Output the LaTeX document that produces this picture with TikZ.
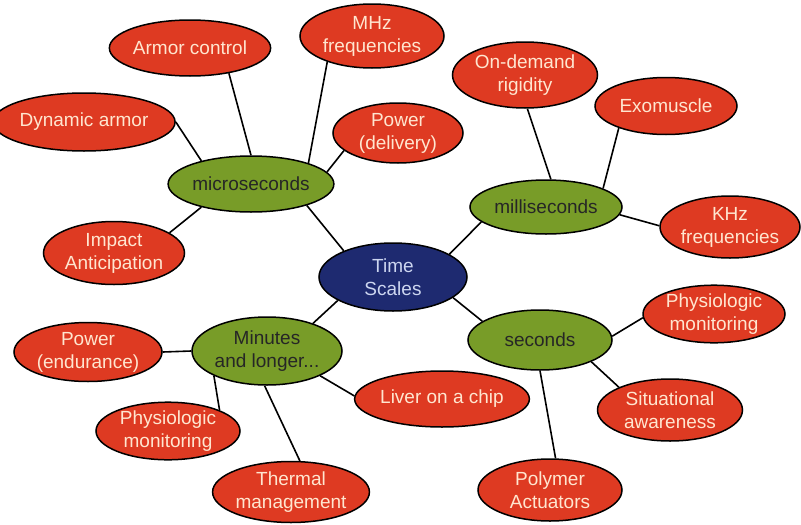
\documentclass[tikz,border=0pt]{standalone}
\usepackage{fontspec}
\setsansfont{Liberation Sans}
\usetikzlibrary{shapes.geometric,backgrounds}
\definecolor{leafred}{RGB}{222,58,34}
\definecolor{catgreen}{RGB}{120,156,40}
\definecolor{hubblue}{RGB}{30,42,112}
\definecolor{leaftext}{RGB}{255,230,208}
\definecolor{hubtext}{RGB}{205,214,240}
\begin{document}
\begin{tikzpicture}[x=1pt,y=-1pt,
   font=\sffamily\fontsize{19}{23}\selectfont,
   bubble/.style={ellipse,draw=black,line width=1.5pt,inner sep=0pt,align=center},
   sz/.style 2 args={minimum width=#1pt,minimum height=#2pt},
   leaf/.style={bubble,fill=leafred,text=leaftext},
   cat/.style={bubble,fill=catgreen,text=black!85},
   hub/.style={bubble,fill=hubblue,text=hubtext},
   link/.style={line width=1.6pt}]
\useasboundingbox (0,0) rectangle (801,525);
% centre and the four time ranges
\node[hub,sz={148}{68}] (hub) at (393,277) {Time\\Scales};
\node[cat,sz={148}{56}] (micro) at (251,184) {microseconds};
\node[cat,sz={152}{54}] (milli) at (546,207) {milliseconds};
\node[cat,sz={144}{60}] (sec) at (540,340) {seconds};
\node[cat,sz={150}{68}] (minutes) at (267,351) {Minutes\\and longer...};
% microseconds
\node[leaf,sz={144}{56}] (armor) at (190,48) {Armor control};
\node[leaf,sz={144}{64}] (mhz) at (372,36) {MHz\\frequencies};
\node[leaf,sz={148}{58}] (dynarmor) at (84,122) {Dynamic armor};
\node[leaf,sz={130}{60}] (delivery) at (398,133) {Power\\(delivery)};
\node[leaf,sz={141}{63}] (impact) at (114,253) {Impact\\Anticipation};
% milliseconds
\node[leaf,sz={145}{66}] (rigidity) at (525,75) {On-demand\\rigidity};
\node[leaf,sz={142}{57}] (exo) at (666,106) {Exomuscle};
\node[leaf,sz={140}{62}] (khz) at (730,227) {KHz\\frequencies};
% seconds
\node[leaf,sz={142}{57}] (physioR) at (714,314) {Physiologic\\monitoring};
\node[leaf,sz={145}{62}] (aware) at (670,410) {Situational\\awareness};
\node[leaf,sz={144}{62}] (polymer) at (550,490) {Polymer\\Actuators};
% minutes and longer
\node[leaf,sz={147}{56}] (liver) at (442,399) {Liver on a chip};
\node[leaf,sz={138}{61}] (thermal) at (291,492) {Thermal\\management};
\node[leaf,sz={144}{57}] (physioL) at (168,431) {Physiologic\\monitoring};
\node[leaf,sz={148}{59}] (endurance) at (88,352) {Power\\(endurance)};
\begin{scope}[on background layer]
\draw[link] (hub.152) -- (micro.-21);
\draw[link] (hub.22) -- (milli.-167);
\draw[link] (hub.-19) -- (sec.162);
\draw[link] (hub.-157) -- (minutes.31);
\draw[link] (micro.90) -- (armor.-33);
\draw[link] (micro.20) -- (mhz.-150);
\draw[link] (micro.155) -- (dynarmor.0);
\draw[link] (micro.9) -- (delivery.-162);
\draw[link] (micro.-155) -- (impact.20);
\draw[link] (milli.80) -- (rigidity.-86);
\draw[link] (milli.18) -- (exo.-155);
\draw[link] (milli.-6) -- (khz.179);
\draw[link] (sec.3) -- (physioR.-177);
\draw[link] (sec.-23) -- (aware.156);
\draw[link] (sec.-90) -- (polymer.80);
\draw[link] (minutes.180) -- (endurance.0);
\draw[link] (minutes.-155) -- (physioL.22);
\draw[link] (minutes.-94) -- (thermal.74);
\draw[link] (minutes.-25) -- (liver.178);
\end{scope}
\end{tikzpicture}
\end{document}
